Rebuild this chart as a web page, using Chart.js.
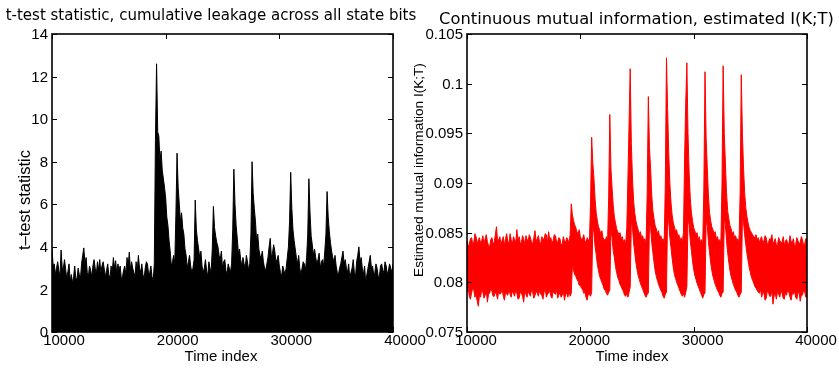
<!DOCTYPE html>
<html>
<head>
<meta charset="utf-8">
<script src="https://cdn.jsdelivr.net/npm/chart.js@4.4.1/dist/chart.umd.min.js"></script>
<style>
    html, body { margin: 0; padding: 0; background: #fff; }
    body { width: 839px; height: 368px; position: relative; overflow: hidden; }
    #leftBox { position: absolute; left: 0; top: 0; width: 440px; height: 368px; }
    #rightBox { position: absolute; left: 400px; top: 0; width: 439px; height: 368px; }
</style>
</head>
<body>
<div id="leftBox"><canvas id="ttestChart" width="440" height="368"></canvas></div>
<div id="rightBox"><canvas id="miChart" width="439" height="368"></canvas></div>
<script>
// time index, one sample every 100 points from 10000 to 40000
const timeStart = 10000;
const timeStep = 100;
const timeEnd = 40000;
const timeIndex = [];
for (let t = timeStart; t <= timeEnd; t += timeStep) timeIndex.push(t);

// left panel: t-test statistic (top of the filled trace)
const tTestValues = [
    3.95, 3.1, 3.2, 2.7, 3.0, 3.3, 2.9, 2.6, 3.85, 3.0,
    3.0, 3.4, 2.95, 2.5, 2.85, 3.2, 2.4, 2.7, 2.3, 2.6,
    3.1, 2.5, 2.5, 3.0, 2.7, 2.5, 3.2, 3.6, 3.95, 3.2,
    3.5, 2.8, 2.6, 3.1, 2.9, 2.6, 3.1, 3.4, 3.0, 2.7,
    3.3, 2.9, 3.4, 2.8, 3.1, 3.3, 2.95, 2.6, 2.9, 3.2,
    2.7, 2.5, 3.1, 2.8, 3.5, 3.0, 3.35, 2.7, 3.2, 2.9,
    3.1, 2.5, 2.6, 2.9, 3.1, 2.7, 3.5, 3.1, 3.75, 2.9,
    3.3, 3.0, 2.8, 2.6, 3.3, 2.9, 3.6, 3.0, 2.8, 3.2,
    2.7, 2.5, 3.0, 3.3, 3.2, 2.7, 2.8, 3.1, 2.6, 2.4,
    3.2, 9.0, 12.6, 9.4, 9.2, 8.0, 8.5, 7.6, 7.2, 6.8,
    6.3, 5.4, 5.0, 4.3, 3.8, 3.1, 3.3, 3.6, 3.2, 5.5,
    8.4, 6.8, 6.0, 5.2, 5.6, 4.9, 4.6, 3.9, 3.6, 3.0,
    3.3, 3.6, 3.1, 2.8, 3.0, 3.4, 6.2, 4.8, 4.3, 3.9,
    3.5, 3.8, 3.1, 2.8, 3.0, 3.4, 2.9, 2.6, 3.3, 3.0,
    2.8, 3.9, 5.9, 4.9, 4.5, 4.2, 4.0, 3.6, 3.4, 3.8,
    3.0, 3.3, 3.4, 2.9, 2.7, 3.2, 3.0, 2.8, 3.2, 4.8,
    7.65, 6.0, 5.0, 4.4, 3.7, 3.9, 3.4, 3.1, 3.5, 3.2,
    3.0, 3.6, 3.3, 2.9, 3.2, 4.6, 8.0, 6.5, 5.8, 5.2,
    4.3, 4.6, 3.9, 3.6, 3.5, 3.8, 3.3, 3.0, 2.9, 3.2,
    3.5, 4.0, 4.4, 3.5, 3.7, 4.1, 3.8, 3.3, 3.4, 3.6,
    3.1, 2.8, 2.6, 3.1, 2.9, 2.7, 3.0, 3.5, 4.0, 5.2,
    7.5, 5.8, 4.8, 4.3, 3.9, 3.5, 3.2, 3.6, 3.0, 2.7,
    3.0, 3.3, 3.2, 2.9, 3.5, 4.6, 7.2, 5.6, 4.5, 4.1,
    3.6, 3.9, 3.5, 3.2, 3.4, 3.7, 3.0, 3.3, 3.4, 3.1,
    3.8, 4.6, 6.6, 5.4, 4.7, 4.2, 3.8, 3.5, 3.3, 3.6,
    3.1, 2.8, 2.7, 3.0, 3.2, 3.5, 3.8, 3.2, 3.4, 3.0,
    2.8, 3.2, 2.5, 2.8, 3.0, 3.4, 2.8, 2.6, 3.3, 3.6,
    4.0, 3.3, 3.5, 3.0, 2.7, 3.1, 2.3, 2.7, 3.0, 3.3,
    3.6, 3.0, 3.1, 2.7, 2.8, 3.2, 3.0, 2.6, 2.6, 3.1,
    3.2, 2.9, 2.8, 3.3, 3.1, 2.7, 2.9, 3.2, 3.0, 2.8,
    3.2
];

// right panel: estimated I(K;T), upper and lower edge of the noisy trace
const miUpper = [
    0.0842, 0.0837, 0.0838, 0.0844, 0.0845, 0.0839, 0.0840, 0.0849, 0.0846, 0.0838,
    0.0843, 0.0845, 0.0839, 0.0842, 0.0847, 0.0838, 0.0844, 0.0848, 0.0841, 0.0837,
    0.0836, 0.0843, 0.0845, 0.0839, 0.0840, 0.0848, 0.0856, 0.0841, 0.0843, 0.0846,
    0.0838, 0.0842, 0.0846, 0.0837, 0.0844, 0.0849, 0.0841, 0.0839, 0.0849, 0.0843,
    0.0838, 0.0846, 0.0843, 0.0840, 0.0853, 0.0842, 0.0846, 0.0839, 0.0840, 0.0847,
    0.0844, 0.0838, 0.0847, 0.0843, 0.0842, 0.0848, 0.0845, 0.0840, 0.0839, 0.0845,
    0.0852, 0.0841, 0.0844, 0.0847, 0.0841, 0.0838, 0.0846, 0.0844, 0.0843, 0.0849,
    0.0848, 0.0840, 0.0851, 0.0843, 0.0845, 0.0839, 0.0842, 0.0848, 0.0847, 0.0841,
    0.0840, 0.0845, 0.0844, 0.0838, 0.0838, 0.0846, 0.0842, 0.0840, 0.0845, 0.0843,
    0.0839, 0.0848, 0.0879, 0.0868, 0.0862, 0.0858, 0.0855, 0.0851, 0.0849, 0.0853,
    0.0846, 0.0843, 0.0844, 0.0848, 0.0842, 0.0839, 0.0845, 0.0843, 0.0840, 0.0880,
    0.0946, 0.0920, 0.0905, 0.0884, 0.0870, 0.0862, 0.0856, 0.0853, 0.0849, 0.0852,
    0.0845, 0.0843, 0.0842, 0.0846, 0.0840, 0.0885, 0.0969, 0.0915, 0.0895, 0.0878,
    0.0866, 0.0860, 0.0854, 0.0851, 0.0848, 0.0850, 0.0844, 0.0846, 0.0841, 0.0843,
    0.0838, 0.0855, 0.0905, 0.0960, 0.1015, 0.0940, 0.0905, 0.0882, 0.0870, 0.0862,
    0.0857, 0.0853, 0.0849, 0.0851, 0.0845, 0.0847, 0.0841, 0.0844, 0.0839, 0.0890,
    0.0987, 0.0935, 0.0915, 0.0888, 0.0872, 0.0864, 0.0857, 0.0854, 0.0849, 0.0852,
    0.0845, 0.0847, 0.0842, 0.0844, 0.0840, 0.0900, 0.1026, 0.0975, 0.0930, 0.0900,
    0.0880, 0.0868, 0.0860, 0.0856, 0.0851, 0.0853, 0.0846, 0.0848, 0.0842, 0.0845,
    0.0840, 0.0850, 0.0925, 0.0980, 0.1021, 0.0950, 0.0910, 0.0885, 0.0870, 0.0862,
    0.0855, 0.0852, 0.0848, 0.0850, 0.0843, 0.0846, 0.0840, 0.0843, 0.0838, 0.0895,
    0.1012, 0.0945, 0.0915, 0.0888, 0.0870, 0.0862, 0.0856, 0.0853, 0.0849, 0.0851,
    0.0844, 0.0846, 0.0841, 0.0843, 0.0839, 0.0900, 0.1018, 0.0950, 0.0920, 0.0890,
    0.0872, 0.0864, 0.0857, 0.0854, 0.0849, 0.0851, 0.0845, 0.0847, 0.0842, 0.0844,
    0.0840, 0.0890, 0.1009, 0.0950, 0.0915, 0.0890, 0.0875, 0.0866, 0.0860, 0.0855,
    0.0852, 0.0850, 0.0848, 0.0846, 0.0845, 0.0848, 0.0843, 0.0845, 0.0840, 0.0844,
    0.0846, 0.0839, 0.0842, 0.0847, 0.0845, 0.0838, 0.0840, 0.0844, 0.0843, 0.0848,
    0.0839, 0.0841, 0.0844, 0.0837, 0.0838, 0.0845, 0.0842, 0.0840, 0.0840, 0.0846,
    0.0837, 0.0842, 0.0843, 0.0838, 0.0839, 0.0847, 0.0841, 0.0840, 0.0844, 0.0836,
    0.0838, 0.0845, 0.0842, 0.0839, 0.0840, 0.0846, 0.0843, 0.0837, 0.0839, 0.0844,
    0.0841
];
const miLower = [
    0.0790, 0.0795, 0.0786, 0.0783, 0.0789, 0.0794, 0.0792, 0.0785, 0.0788, 0.0781,
    0.0776, 0.0787, 0.0785, 0.0793, 0.0790, 0.0784, 0.0787, 0.0792, 0.0780, 0.0788,
    0.0789, 0.0794, 0.0791, 0.0786, 0.0786, 0.0790, 0.0788, 0.0783, 0.0792, 0.0788,
    0.0789, 0.0794, 0.0786, 0.0782, 0.0790, 0.0788, 0.0787, 0.0793, 0.0788, 0.0785,
    0.0791, 0.0789, 0.0786, 0.0792, 0.0789, 0.0783, 0.0784, 0.0790, 0.0789, 0.0786,
    0.0780, 0.0791, 0.0788, 0.0785, 0.0791, 0.0788, 0.0786, 0.0793, 0.0790, 0.0784,
    0.0787, 0.0791, 0.0789, 0.0786, 0.0792, 0.0788, 0.0787, 0.0783, 0.0790, 0.0794,
    0.0785, 0.0788, 0.0789, 0.0792, 0.0786, 0.0784, 0.0791, 0.0789, 0.0788, 0.0793,
    0.0784, 0.0787, 0.0790, 0.0785, 0.0787, 0.0791, 0.0782, 0.0788, 0.0789, 0.0785,
    0.0791, 0.0786, 0.0789, 0.0818, 0.0812, 0.0808, 0.0806, 0.0803, 0.0801, 0.0797,
    0.0797, 0.0794, 0.0793, 0.0789, 0.0790, 0.0785, 0.0782, 0.0788, 0.0788, 0.0786,
    0.0790, 0.0858, 0.0850, 0.0836, 0.0828, 0.0818, 0.0812, 0.0806, 0.0803, 0.0800,
    0.0797, 0.0793, 0.0792, 0.0789, 0.0787, 0.0790, 0.0792, 0.0852, 0.0845, 0.0832,
    0.0825, 0.0816, 0.0810, 0.0805, 0.0802, 0.0798, 0.0796, 0.0793, 0.0791, 0.0787,
    0.0786, 0.0789, 0.0785, 0.0790, 0.0795, 0.0862, 0.0855, 0.0840, 0.0830, 0.0820,
    0.0813, 0.0807, 0.0803, 0.0799, 0.0796, 0.0793, 0.0790, 0.0787, 0.0785, 0.0788,
    0.0789, 0.0860, 0.0855, 0.0840, 0.0830, 0.0820, 0.0812, 0.0806, 0.0802, 0.0798,
    0.0795, 0.0792, 0.0790, 0.0786, 0.0784, 0.0788, 0.0790, 0.0868, 0.0860, 0.0845,
    0.0835, 0.0824, 0.0815, 0.0808, 0.0804, 0.0800, 0.0797, 0.0794, 0.0791, 0.0788,
    0.0786, 0.0789, 0.0785, 0.0790, 0.0795, 0.0865, 0.0858, 0.0842, 0.0832, 0.0821,
    0.0813, 0.0807, 0.0803, 0.0799, 0.0796, 0.0793, 0.0790, 0.0787, 0.0784, 0.0788,
    0.0789, 0.0863, 0.0857, 0.0841, 0.0830, 0.0820, 0.0812, 0.0806, 0.0802, 0.0798,
    0.0795, 0.0792, 0.0790, 0.0787, 0.0785, 0.0789, 0.0790, 0.0865, 0.0858, 0.0842,
    0.0830, 0.0820, 0.0812, 0.0806, 0.0802, 0.0798, 0.0795, 0.0792, 0.0790, 0.0787,
    0.0785, 0.0788, 0.0790, 0.0866, 0.0860, 0.0848, 0.0838, 0.0829, 0.0822, 0.0815,
    0.0810, 0.0805, 0.0802, 0.0799, 0.0796, 0.0794, 0.0792, 0.0790, 0.0789, 0.0793,
    0.0785, 0.0790, 0.0789, 0.0782, 0.0784, 0.0791, 0.0790, 0.0786, 0.0786, 0.0792,
    0.0778, 0.0787, 0.0788, 0.0783, 0.0791, 0.0788, 0.0785, 0.0792, 0.0789, 0.0784,
    0.0783, 0.0790, 0.0787, 0.0793, 0.0790, 0.0785, 0.0782, 0.0789, 0.0788, 0.0791,
    0.0785, 0.0783, 0.0789, 0.0790, 0.0781, 0.0787, 0.0787, 0.0792, 0.0790, 0.0785,
    0.0786
];

// tick labels
const xTickValues = [10000, 20000, 30000, 40000];
const tTestTicks = [0, 2, 4, 6, 8, 10, 12, 14];
const miTicks = [0.075, 0.08, 0.085, 0.09, 0.095, 0.1, 0.105];

const tickFont = { family: "'Liberation Sans', Arial, sans-serif", size: 15 };

// matlab-like frame: box, inward ticks, x tick labels and the text labels
function framePlugin(labels) {
    return {
        id: 'frame',
        afterDatasetsDraw(chart) {
            const { ctx, chartArea: a, scales } = chart;
            ctx.save();
            ctx.strokeStyle = '#000';
            ctx.lineWidth = 1;
            ctx.beginPath();
            scales.x.ticks.forEach(t => {
                const px = Math.round(scales.x.getPixelForValue(t.value)) + 0.5;
                ctx.moveTo(px, a.top); ctx.lineTo(px, a.top + 5);
                ctx.moveTo(px, a.bottom); ctx.lineTo(px, a.bottom - 5);
            });
            scales.y.ticks.forEach(t => {
                const py = Math.round(scales.y.getPixelForValue(t.value)) + 0.5;
                ctx.moveTo(a.left, py); ctx.lineTo(a.left + 5, py);
                ctx.moveTo(a.right, py); ctx.lineTo(a.right - 5, py);
            });
            ctx.stroke();
            ctx.lineWidth = 1.6;
            ctx.strokeRect(a.left, a.top, a.right - a.left, a.bottom - a.top);

            ctx.fillStyle = '#000';
            ctx.textAlign = 'center';
            // x tick labels, shifted right of their ticks as in the original figure
            ctx.font = "15px 'Liberation Sans'";
            ctx.textBaseline = 'middle';
            scales.x.ticks.forEach(t => {
                ctx.fillText(String(t.value), scales.x.getPixelForValue(t.value) + labels.xLabelShift, a.bottom + 9);
            });
            // title
            ctx.font = labels.titleFont;
            ctx.textBaseline = 'alphabetic';
            ctx.fillText(labels.title, labels.titleX, labels.titleY);
            // x title
            ctx.font = labels.xFont;
            ctx.textBaseline = 'middle';
            ctx.fillText(labels.xTitle, labels.xX, labels.xY);
            // y title
            ctx.translate(labels.yX, labels.yY);
            ctx.rotate(-Math.PI / 2);
            ctx.font = labels.yFont;
            ctx.fillText(labels.yTitle, 0, 0);
            ctx.restore();
        }
    };
}

function axisX() {
    return {
        type: 'linear',
        min: 10000,
        max: 40000,
        afterBuildTicks: s => { s.ticks = xTickValues.map(v => ({ value: v })); },
        afterFit: s => { s.height = 36; s.paddingLeft = 0; s.paddingRight = 0; },
        grid: { display: false, drawTicks: false },
        border: { display: false },
        ticks: { display: false }
    };
}

function axisY(width, min, max, values) {
    return {
        min: min,
        max: max,
        afterBuildTicks: s => { s.ticks = values.map(v => ({ value: v })); },
        afterFit: s => { s.width = width; s.paddingTop = 0; s.paddingBottom = 0; },
        grid: { display: false, drawTicks: false },
        border: { display: false },
        ticks: {
            color: '#000', font: tickFont, padding: 4, labelOffset: 1,
            autoSkip: false, callback: v => String(v)
        }
    };
}

// t-test chart (left)
new Chart(document.getElementById('ttestChart'), {
    type: 'line',
    data: {
        datasets: [{
            data: timeIndex.map((t, i) => ({ x: t, y: tTestValues[i] })),
            borderColor: '#000',
            backgroundColor: '#000',
            borderWidth: 1,
            fill: 'origin',
            pointRadius: 0,
            tension: 0
        }]
    },
    options: {
        responsive: false,
        animation: false,
        layout: { padding: { left: 0, right: 47, top: 34, bottom: 0 } },
        plugins: { legend: { display: false }, tooltip: { enabled: false } },
        scales: {
            x: axisX(),
            y: axisY(52, 0, 14, tTestTicks)
        }
    },
    plugins: [framePlugin({
        xLabelShift: 12,
        title: 't-test statistic, cumulative leakage across all state bits',
        titleFont: "15px 'DejaVu Sans'", titleX: 211, titleY: 20,
        xTitle: 'Time index', xFont: "15px 'Liberation Sans'", xX: 221, xY: 357,
        yTitle: 't–test statistic', yFont: "16.5px 'Liberation Sans'", yX: 25, yY: 200
    })]
});

// mutual information chart (right)
new Chart(document.getElementById('miChart'), {
    type: 'line',
    data: {
        datasets: [{
            data: timeIndex.map((t, i) => ({ x: t, y: miUpper[i] })),
            borderColor: '#ff0000',
            backgroundColor: '#ff0000',
            borderWidth: 1,
            fill: '+1',
            pointRadius: 0,
            tension: 0
        }, {
            data: timeIndex.map((t, i) => ({ x: t, y: miLower[i] })),
            borderColor: '#ff0000',
            borderWidth: 1,
            fill: false,
            pointRadius: 0,
            tension: 0
        }]
    },
    options: {
        responsive: false,
        animation: false,
        layout: { padding: { left: 0, right: 32, top: 34, bottom: 0 } },
        plugins: { legend: { display: false }, tooltip: { enabled: false } },
        scales: {
            x: axisX(),
            y: axisY(67, 0.075, 0.105, miTicks)
        }
    },
    plugins: [framePlugin({
        xLabelShift: 9,
        title: 'Continuous mutual information, estimated I(K;T)',
        titleFont: "16.3px 'DejaVu Sans'", titleX: 236.5, titleY: 24,
        xTitle: 'Time index', xFont: "15px 'Liberation Sans'", xX: 232, xY: 357,
        yTitle: 'Estimated mutual information I(K;T)', yFont: "13.6px 'Liberation Sans'", yX: 19, yY: 170
    })]
});
</script>
</body>
</html>
